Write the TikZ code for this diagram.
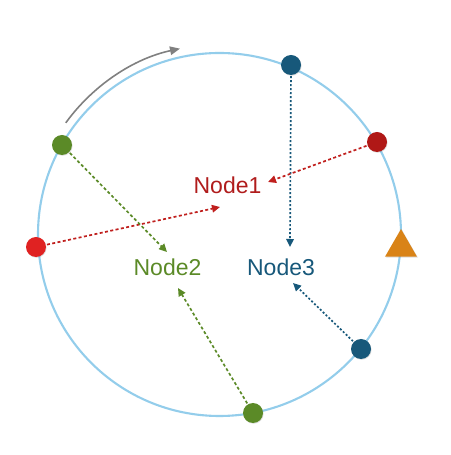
\documentclass[tikz,border=0pt]{standalone}
\usepackage{fontspec}
\setmainfont{Liberation Sans}
\usetikzlibrary{arrows.meta,shapes.geometric,shadows}
\definecolor{ringblue}{HTML}{93CDEB}
\definecolor{leafgreen}{HTML}{5B8A27}
\definecolor{deepblue}{HTML}{17587A}
\definecolor{darkred}{HTML}{B01816}
\definecolor{brightred}{HTML}{E02222}
\definecolor{txtred}{HTML}{B01C1C}
\definecolor{linered}{HTML}{C0201E}
\definecolor{amber}{HTML}{D98317}
\begin{document}
\begin{tikzpicture}[x=1pt,y=1pt,
  dot/.style={circle,inner sep=0pt,minimum size=20pt,
    drop shadow={opacity=0.25,shadow xshift=0.6pt,shadow yshift=-0.8pt}},
  lbl/.style={inner sep=0pt,font=\fontsize{23}{27}\selectfont},
  conn/.style={line width=1.7pt,dash pattern=on 3pt off 2.4pt,
    -{Triangle[length=8pt,width=7.5pt]},shorten <=1pt},
  dotconn/.style={line width=1.7pt,dash pattern=on 2pt off 2pt,
    -{Triangle[length=8pt,width=7.5pt]},shorten <=1pt}]
\useasboundingbox (0,0) rectangle (450,455);
% ring
\coordinate (ctr) at (219.5,220.5);
\draw[ringblue,line width=2.1pt] (ctr) circle (181.5pt);
% rotation arrow
\draw[gray,line width=1.6pt,-{Triangle[length=10pt,width=8.5pt]}]
  (ctr) ++(144:190pt) arc[start angle=144,end angle=102,radius=190pt];
% labels
\node[lbl,text=txtred] (n1) at (227.5,269.5) {Node1};
\node[lbl,text=leafgreen] (n2) at (167.5,188) {Node2};
\node[lbl,text=deepblue] (n3) at (281,188) {Node3};
% arrow targets
\coordinate (t1) at (290,208);
\coordinate (t2) at (268,273);
\coordinate (t3) at (220,248);
\coordinate (t4) at (167,203);
\coordinate (t5) at (178,167);
\coordinate (t6) at (293,172);
% points on the ring
\node[dot,fill=leafgreen] (g1) at (62,310) {};
\node[dot,fill=deepblue] (b1) at (291,390) {};
\node[dot,fill=darkred] (r1) at (377,313) {};
\node[dot,fill=brightred] (r2) at (36,208) {};
\node[dot,fill=deepblue] (b2) at (361,106) {};
\node[dot,fill=leafgreen] (g2) at (253,42) {};
\node[regular polygon,regular polygon sides=3,fill=amber,inner sep=0pt,
  minimum size=37pt,drop shadow={opacity=0.25,shadow xshift=1pt,shadow yshift=-1pt}] (tri) at (401,207.5) {};
% connectors
\draw[dotconn,deepblue] (b1) -- (t1);
\draw[conn,linered] (r1) -- (t2);
\draw[conn,linered] (r2) -- (t3);
\draw[conn,leafgreen] (g1) -- (t4);
\draw[conn,leafgreen] (g2) -- (t5);
\draw[dotconn,deepblue] (b2) -- (t6);
\end{tikzpicture}
\end{document}
